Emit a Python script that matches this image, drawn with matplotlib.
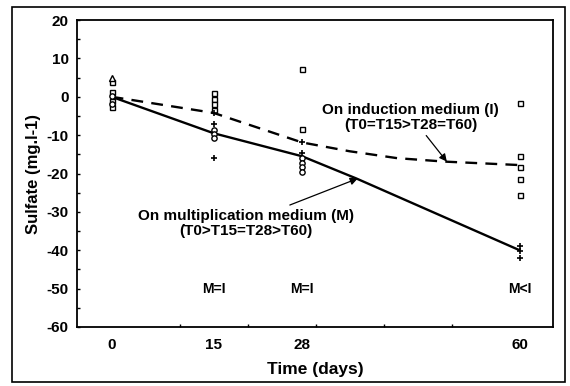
import matplotlib
matplotlib.use("Agg")
import matplotlib.pyplot as plt
from matplotlib.patches import Rectangle
from matplotlib.ticker import MultipleLocator, FixedLocator

plt.rcParams['font.family'] = ['Liberation Sans', 'DejaVu Sans']
plt.rcParams['axes.unicode_minus'] = False

# ---- data ----
tick_days = [0, 15, 28, 60]
tick_labels = ["0", "15", "28", "60"]

# induction medium (I) individual values (squares)
I_days = [0, 0, 0, 0, 15, 15, 15, 15, 28, 28, 60, 60, 60, 60, 60]
I_vals = [3.8, 1.2, -1.0, -2.6, 1.0, -0.5, -2.0, -3.4, 7.2, -8.4,
          -1.6, -15.5, -18.3, -21.4, -25.5]

# multiplication medium (M) individual values (circles)
M_days = [0, 0, 15, 15, 15, 28, 28, 28, 28]
M_vals = [0.3, -1.8, -8.6, -9.8, -10.8, -16.0, -17.2, -18.4, -19.6]

# multiplication medium (M) values drawn as plus signs
Mp_days = [15, 15, 28, 60, 60, 60]
Mp_vals = [-7.0, -15.9, -14.6, -39.0, -40.3, -42.0]

# value drawn as a triangle
T_days = [0]
T_vals = [5.0]

# fitted curves
I_line_days = [0, 15, 28, 35, 42, 49, 60]
I_line_vals = [0, -4.2, -11.9, -14.2, -16.0, -16.9, -17.8]
M_line_days = [0, 15, 28, 36, 60]
M_line_vals = [0, -9.5, -15.5, -21.3, -40.0]

# mean marks on induction curve
I_mean_days = [15, 28]
I_mean_vals = [-4.2, -11.8]

comparisons = ["M=I", "M=I", "M<I"]
comparison_days = [15, 28, 60]
comparison_y = -50

fig = plt.figure(figsize=(5.70, 3.86), dpi=100)
ax = fig.add_axes([0.135, 0.153, 0.835, 0.795])

ax.plot(M_line_days, M_line_vals, color='black', lw=1.7, zorder=2)
ax.plot(I_line_days, I_line_vals, color='black', lw=1.7, dashes=(5, 3.5), zorder=2)

ax.plot(I_days, I_vals, ls='none', marker='s', ms=3.6, mfc='white', mec='black', mew=1.0, zorder=3)
ax.plot(M_days, M_vals, ls='none', marker='o', ms=3.8, mfc='white', mec='black', mew=1.0, zorder=3)
ax.plot(T_days, T_vals, ls='none', marker='^', ms=3.8, mfc='white', mec='black', mew=1.0, zorder=3)
ax.plot(Mp_days, Mp_vals, ls='none', marker='+', ms=4.5, color='black', mew=1.2, zorder=3)
ax.plot(I_mean_days, I_mean_vals, ls='none', marker='+', ms=4.5, color='black', mew=1.2, zorder=3)

for d, t in zip(comparison_days, comparisons):
    ax.text(d, comparison_y, t, ha='center', va='center', fontsize=10, fontweight='bold')

ax.annotate("On induction medium (I)\n(T0=T15>T28=T60)", xy=(49.3, -16.9), xytext=(44.0, -5.3),
            ha='center', va='center', fontsize=11, fontweight='bold', linespacing=1.1,
            arrowprops=dict(arrowstyle='-|>', color='black', lw=0.9, mutation_scale=11,
                            shrinkA=1, shrinkB=0, relpos=(0.57, 0.0)))
ax.annotate("On multiplication medium (M)\n(T0>T15=T28>T60)", xy=(36.2, -21.3), xytext=(19.7, -33.0),
            ha='center', va='center', fontsize=11, fontweight='bold', linespacing=1.1,
            arrowprops=dict(arrowstyle='-|>', color='black', lw=0.9, mutation_scale=11,
                            shrinkA=2, shrinkB=0, relpos=(0.66, 1.0)))

ax.set_xlim(-5.1, 64.9)
ax.set_ylim(-60, 20)
ax.xaxis.set_major_locator(FixedLocator(tick_days))
ax.set_xticklabels(tick_labels)
ax.xaxis.set_minor_locator(MultipleLocator(10))
ax.yaxis.set_major_locator(MultipleLocator(10))
ax.yaxis.set_minor_locator(MultipleLocator(5))
ax.tick_params(axis='both', which='major', direction='in', length=0, labelsize=11, pad=8)
ax.tick_params(axis='x', which='minor', direction='in', length=2.5, width=1)
ax.tick_params(axis='y', which='minor', direction='in', length=2, width=1)
ax.tick_params(axis='y', which='major', length=2.5, width=1, direction='in', pad=6)
for lbl in ax.get_xticklabels() + ax.get_yticklabels():
    lbl.set_fontweight('bold')
for s in ax.spines.values():
    s.set_linewidth(1.3)

ax.set_xlabel("Time (days)", fontsize=12.5, fontweight='bold', labelpad=7)
ax.set_ylabel("Sulfate (mg.l-1)", fontsize=12, fontweight='bold', labelpad=4)

fig.patches.append(Rectangle((12/570, 4/386), 553/570, 375/386, transform=fig.transFigure,
                             fill=False, edgecolor='black', lw=1.2))

fig.savefig("out.png", dpi=100)
